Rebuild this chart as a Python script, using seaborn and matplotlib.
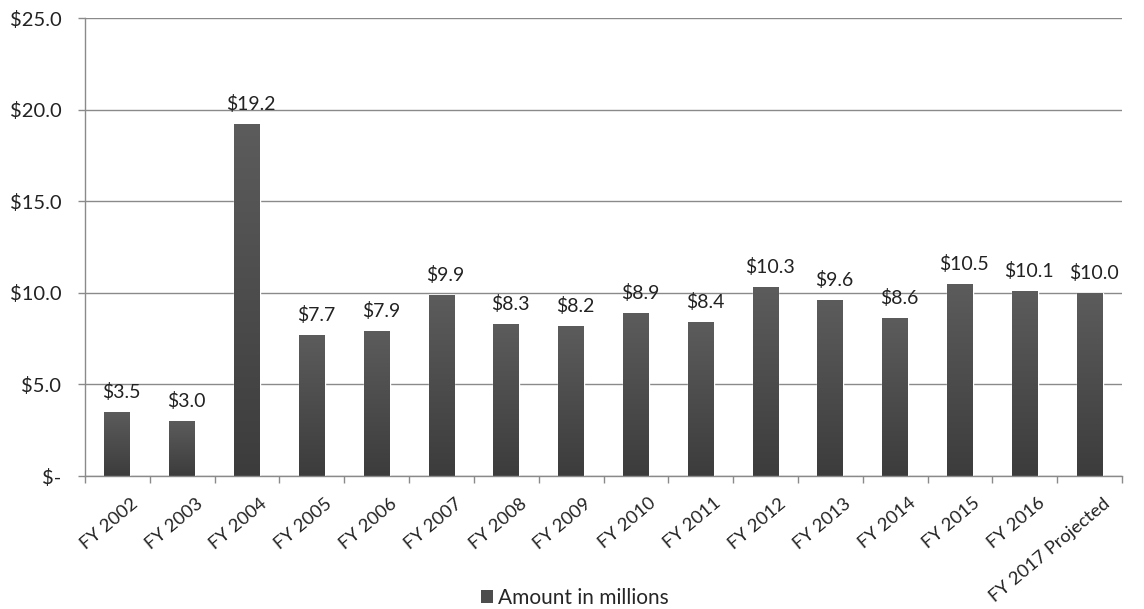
import matplotlib
matplotlib.use("Agg")
import matplotlib.pyplot as plt
import matplotlib.transforms as mtransforms
import seaborn as sns
import pandas as pd
import numpy as np
from matplotlib.ticker import FixedLocator
from matplotlib.colors import LinearSegmentedColormap
from matplotlib.patches import Patch

categories = ["FY 2002", "FY 2003", "FY 2004", "FY 2005", "FY 2006", "FY 2007", "FY 2008",
              "FY 2009", "FY 2010", "FY 2011", "FY 2012", "FY 2013", "FY 2014", "FY 2015",
              "FY 2016", "FY 2017 Projected"]
values = [3.5, 3.0, 19.2, 7.7, 7.9, 9.9, 8.3, 8.2, 8.9, 8.4, 10.3, 9.6, 8.6, 10.5, 10.1, 10.0]
series_name = "Amount in millions"
y_ticks = [0, 5, 10, 15, 20, 25]
y_tick_labels = ["$-", "$5.0", "$10.0", "$15.0", "$20.0", "$25.0"]

sns.set_theme(style="white")
plt.rcParams['font.family'] = ['Lato', 'DejaVu Sans']

df = pd.DataFrame({"cat": categories, "val": values, "series": series_name})

fig = plt.figure(figsize=(11.44, 6.09), dpi=100)
ax = fig.add_axes([85/1144, 1 - 476/609, (1122-85)/1144, (476-18)/609])

bar_color = "#4d4d4d"
sns.barplot(data=df, x="cat", y="val", hue="series", palette=[bar_color], width=0.4,
            ax=ax, legend=False, saturation=1)

ax.set_ylim(0, 25)
ax.set_xlim(-0.5, len(categories) - 0.5)
ax.set_yticks(y_ticks)
ax.set_yticklabels(y_tick_labels, fontsize=14.5, color="#222222")
ax.yaxis.grid(True, color="#8a8a8a", linewidth=1)
ax.set_axisbelow(True)
ax.set_xlabel("")
ax.set_ylabel("")

for s in ["top", "right"]:
    ax.spines[s].set_visible(False)
for s in ["left", "bottom"]:
    ax.spines[s].set_color("#8a8a8a")
    ax.spines[s].set_linewidth(1)

ax.set_xticks(range(len(categories)))
ax.set_xticklabels(categories, rotation=40, ha="right", rotation_mode="anchor",
                   fontsize=13.2, color="#222222")
ax.tick_params(axis="x", which="major", length=0, pad=8)
ax.xaxis.set_minor_locator(FixedLocator(np.arange(-0.5, len(categories), 1.0)))
ax.tick_params(axis="x", which="minor", length=5, color="#8a8a8a", width=1, bottom=True)
ax.tick_params(axis="y", which="major", length=5, color="#8a8a8a", width=1, left=True, pad=12)

shift = mtransforms.ScaledTranslation(13/100, -8/100, fig.dpi_scale_trans)
for lbl in ax.get_xticklabels():
    lbl.set_transform(lbl.get_transform() + shift)

grad = np.linspace(0, 1, 256).reshape(-1, 1)
cmap = LinearSegmentedColormap.from_list("g", ["#3c3c3c", "#5c5c5c"])
for p in ax.patches:
    x0, y0 = p.get_x(), p.get_y()
    w, h = p.get_width(), p.get_height()
    im = ax.imshow(grad, extent=[x0, x0 + w, y0, y0 + h], origin="lower", aspect="auto",
                   cmap=cmap, zorder=p.get_zorder() + 0.1)
    im.set_clip_path(p)
ax.set_xlim(-0.5, len(categories) - 0.5)
ax.set_ylim(0, 25)

for i, v in enumerate(values):
    ax.annotate(f"${v:.1f}", (i, v), xytext=(3, 8), textcoords="offset points",
                ha="center", va="bottom", fontsize=14, color="#222222")

fig.legend(handles=[Patch(facecolor=bar_color, edgecolor="none")], labels=[series_name],
           loc="center", bbox_to_anchor=(575/1144, 1 - 598/609), frameon=False,
           fontsize=15, handlelength=0.6, handleheight=0.6, handletextpad=0.25,
           borderpad=0, borderaxespad=0)

fig.savefig("out.png", dpi=100, facecolor="white")
